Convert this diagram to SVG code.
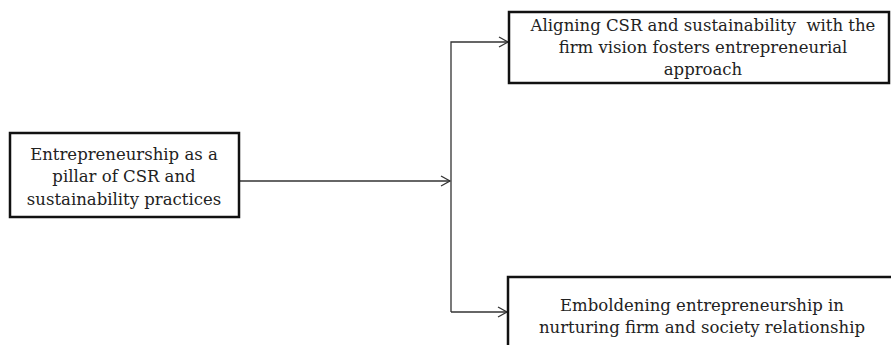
<svg xmlns="http://www.w3.org/2000/svg" width="891" height="345" viewBox="0 0 891 345">
<defs>
<marker id="arr" markerWidth="12" markerHeight="12" refX="10" refY="6" orient="auto" markerUnits="userSpaceOnUse">
<path d="M1,1 L10,6 L1,11" fill="none" stroke="#333" stroke-width="1.3"/>
</marker>
<style>
.box{fill:#fff;stroke:#111;stroke-width:2.5}
.t{font-family:"DejaVu Serif","Liberation Serif",serif;font-size:16.5px;fill:#222;text-anchor:middle}
.c{fill:none;stroke:#333;stroke-width:1.3}
</style>
</defs>
<rect width="891" height="345" fill="#fff"/>
<g id="connectors">
<path class="c" d="M240,181 H450" marker-end="url(#arr)"/>
<path class="c" d="M451,312 V42 H508" marker-end="url(#arr)"/>
<path class="c" d="M451,312 H507" marker-end="url(#arr)"/>
</g>
<g id="source">
<rect class="box" x="10" y="133" width="229" height="84"/>
<text class="t" x="124" y="160">Entrepreneurship as a</text>
<text class="t" x="124" y="182">pillar of CSR and</text>
<text class="t" x="124" y="205">sustainability practices</text>
</g>
<g id="aligning">
<rect class="box" x="509" y="12" width="380" height="71"/>
<text class="t" x="703" y="31" xml:space="preserve">Aligning CSR and sustainability  with the</text>
<text class="t" x="703" y="53">firm vision fosters entrepreneurial</text>
<text class="t" x="703" y="75">approach</text>
</g>
<g id="emboldening">
<rect class="box" x="508" y="277" width="390" height="80"/>
<text class="t" x="702" y="311">Emboldening entrepreneurship in</text>
<text class="t" x="702" y="333">nurturing firm and society relationship</text>
</g>
</svg>
